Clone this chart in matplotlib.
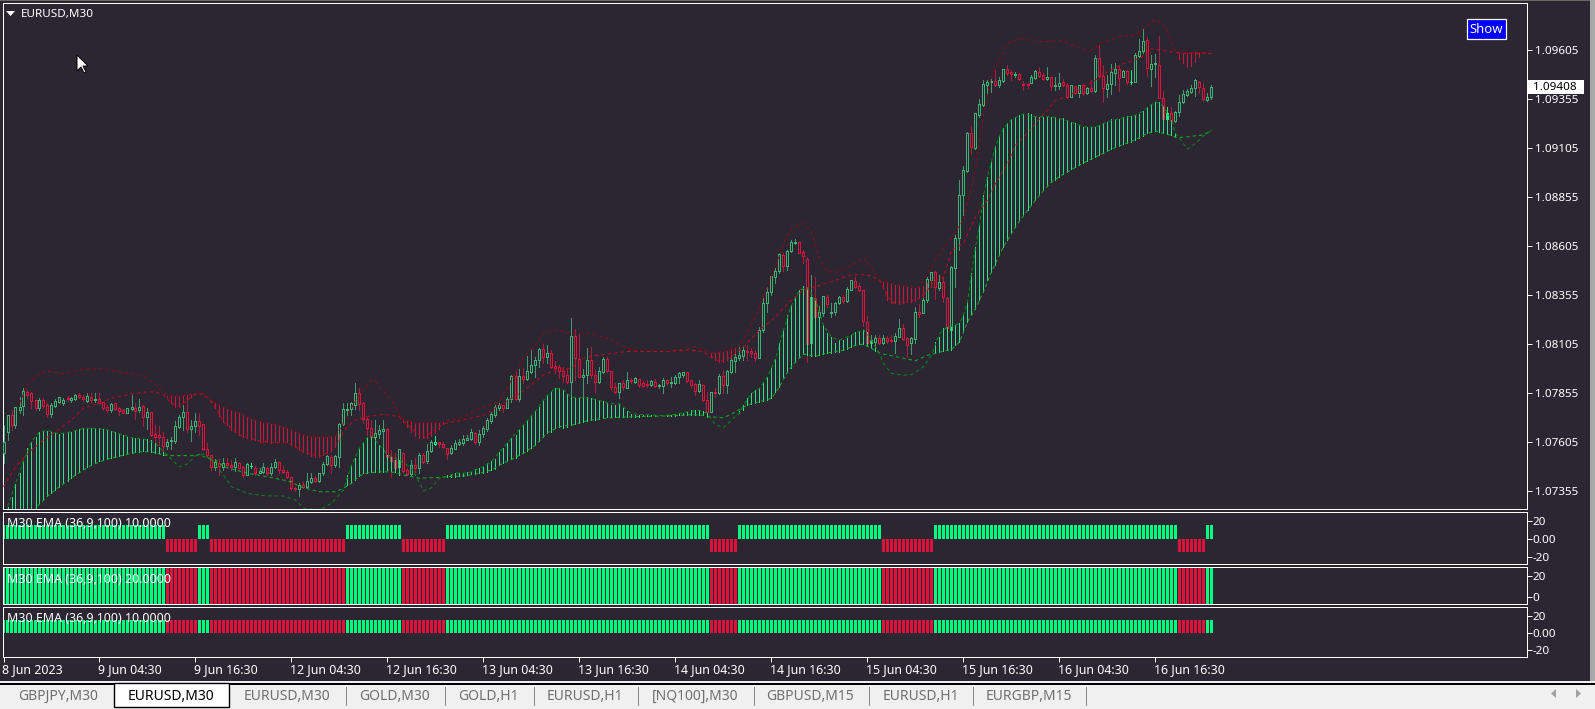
import numpy as np
import matplotlib
matplotlib.use("Agg")
import matplotlib.pyplot as plt
from matplotlib.patches import Rectangle, Polygon
from matplotlib.transforms import ScaledTranslation

# ---------- data (prices in points: 1.0 + value / 100000) ----------
candle_dir = ("ggrgggrrrg" "rrggggrggr" "rgrgrrrgrr" "rggrgrgrrr" "rgggggrggr" "rrrgrgrrgr" "rgbrggrggr" "rrrrgrggrg" "ggrggggggr" "rrrgggrrrg"
              "rrgrgrggbr" "rrggggggrg" "gggggrggrg" "rggggrgrrr" "rrgrrggrrg" "grrrgrgrgr" "rrgrggrggg" "grrrgrrgrg" "rgggggrrrg" "gggggrgggr"
              "rrgrggrggg" "rggrrrrggr" "grrggrrggr" "gggrgrrggg" "ggrgggggrg" "grrgrrrggr" "rgrggrrgrg" "rgrgrrgggr" "grbgggrggr" "rbrggggggr" "rgg")
body_top = [7606,7743,7743,7782,7785,7867,7861,7853,7819,7819,7819,7794,7794,7816,7833,7819,7827,7827,7844,7844,7836,7839,7833,7822,7822,7811,7782,7799,7802,7776,7768,7776,7782,7780,7785,7788,7759,7758,7646,7641,7629,7606,7615,7686,7731,7759,7756,7686,7712,7712,7695,7567,7539,7503,7496,7499,7496,7486,7501,7499,7476,7491,7482,7472,7455,7476,7470,7479,7503,7501,7462,7453,7425,7370,7387,7384,7408,7419,7419,7445,7491,7533,7530,7533,7695,7771,7771,7802,7853,7853,7802,7724,7678,7649,7666,7669,7671,7530,7513,7567,
 7547,7462,7487,7487,7539,7539,7561,7606,7603,7603,7595,7573,7574,7598,7603,7618,7623,7656,7649,7646,7674,7717,7748,7783,7793,7792,7824,7941,7940,7940,7941,7967,7996,8023,8079,8077,8057,8057,7992,7986,7965,7945,8145,8144,8030,7945,8023,8021,7945,7965,8028,8026,7965,7887,7904,7904,7921,7921,7929,7924,7904,7901,7914,7913,7897,7921,7921,7909,7938,7957,7960,7960,7919,7901,7899,7894,7819,7858,7858,7940,
 7940,7968,8022,8039,8048,8073,8071,8068,8056,8178,8311,8370,8450,8476,8563,8558,8581,8625,8622,8622,8571,8540,8345,8340,8268,8347,8342,8270,8313,8345,8343,8384,8430,8428,8398,8382,8219,8124,8133,8134,8133,8133,8124,8144,8184,8184,8133,8133,8268,8270,
 8331,8438,8472,8472,8421,8421,8340,8498,8643,8864,8991,9178,9178,9280,9326,9430,9438,9445,9443,9450,9506,9504,9491,9481,9479,9431,9428,9464,9494,9489,9474,9464,9464,9425,9433,9438,9426,9423,9418,9423,9423,9411,9411,9561,9561,9472,9428,9492,9504,9504,9494,9494,9442,9576,9600,9649,9652,9530,9535,9525,9360,9283,9283,9287,9336,9379,9394,9409,9450,9441,9411,9362,9413]
body_bottom = [7547,7658,7692,7692,7768,7790,7844,7816,7780,7776,7788,7748,7748,7790,7807,7805,7822,7821,7824,7833,7822,7816,7819,7819,7805,7780,7768,7768,7771,7765,7754,7754,7775,7765,7768,7731,7731,7641,7632,7629,7584,7584,7612,7612,7683,7734,7669,7671,7686,7688,7567,7539,7479,7479,7482,7479,7486,7479,7476,7474,7437,7438,7480,7448,7448,7452,7445,7445,7479,7462,7453,7425,7369,7365,7367,7377,7377,7402,7408,7408,7445,7491,7488,7489,7530,7695,7768,7771,7794,7799,7724,7678,7629,7629,7646,7663,7530,7508,7471,7476,
 7459,7442,7442,7471,7471,7505,7508,7561,7596,7596,7579,7545,7550,7571,7596,7598,7617,7622,7605,7607,7646,7671,7714,7743,7777,7780,7780,7824,7824,7822,7928,7928,7962,7996,8021,8040,8040,7989,7984,7965,7941,7909,7913,8031,7938,7938,7945,7945,7913,7913,7964,7969,7887,7858,7858,7884,7882,7916,7911,7897,7892,7895,7894,7890,7892,7890,7904,7904,7907,7935,7948,7918,7897,7867,7867,7821,7760,7760,7853,7853,
 7895,7895,7963,8019,8034,8044,8065,8056,8034,8034,8178,8311,8367,8447,8474,8503,8503,8578,8617,8569,8551,8104,8107,8240,8240,8260,8308,8263,8268,8311,8325,8325,8382,8396,8379,8223,8107,8107,8115,8110,8110,8121,8119,8119,8141,8131,8100,8107,8131,8257,
 8260,8328,8433,8393,8391,8342,8184,8178,8493,8643,8864,8988,9107,9103,9271,9322,9426,9438,9426,9426,9445,9487,9479,9477,9453,9426,9423,9436,9462,9472,9457,9453,9421,9421,9421,9426,9365,9365,9382,9382,9385,9385,9394,9394,9472,9411,9406,9428,9487,9462,9467,9442,9440,9442,9574,9598,9510,9506,9530,9360,9249,9253,9243,9239,9287,9336,9375,9390,9408,9413,9351,9348,9362]
highs = [7692,7743,7768,7782,7836,7879,7870,7861,7819,7827,7827,7802,7802,7822,7836,7827,7839,7836,7848,7853,7844,7853,7853,7853,7853,7811,7794,7805,7805,7785,7771,7780,7844,7802,7822,7794,7776,7759,7692,7686,7658,7618,7629,7714,7743,7794,7844,7717,7751,7751,7695,7601,7539,7516,7520,7522,7522,7513,7522,7505,7482,7496,7496,7482,7471,7496,7479,7496,7520,7505,7482,7462,7428,7377,7394,7403,7445,7445,7431,7445,7505,7539,7539,7539,7700,7802,7802,7811,7904,7879,7811,7734,7717,7717,7692,7717,7675,7564,7547,7567,
 7550,7471,7513,7521,7547,7547,7595,7615,7635,7603,7606,7573,7590,7615,7618,7641,7641,7669,7658,7666,7686,7725,7760,7794,7802,7792,7836,7947,7969,7975,7980,8043,8077,8037,8083,8105,8100,8074,8018,7998,7989,7980,8236,8179,8154,7975,8083,8091,7972,7989,8040,8037,7969,7907,7904,7921,7960,7933,7935,7924,7916,7921,7921,7924,7901,7929,7924,7935,7947,7960,7963,7963,7921,7904,7921,7895,7861,7858,7879,7952,
 7971,7971,8042,8053,8090,8090,8098,8082,8073,8192,8337,8393,8450,8490,8566,8566,8583,8634,8642,8625,8583,8546,8456,8444,8297,8348,8354,8311,8320,8348,8354,8393,8433,8444,8413,8382,8246,8150,8150,8150,8150,8144,8150,8158,8234,8206,8138,8141,8291,8308,
 8348,8447,8472,8478,8456,8447,8345,8501,8660,8940,9011,9187,9215,9280,9356,9450,9450,9453,9501,9467,9509,9525,9501,9492,9484,9447,9433,9476,9501,9518,9487,9515,9467,9467,9487,9453,9433,9425,9421,9425,9430,9416,9450,9577,9628,9526,9476,9532,9535,9521,9501,9501,9501,9586,9657,9708,9668,9577,9583,9674,9396,9314,9311,9290,9374,9399,9402,9425,9453,9445,9436,9382,9425]
lows = [7496,7615,7666,7675,7751,7743,7828,7776,7768,7768,7776,7734,7734,7785,7802,7794,7816,7811,7819,7828,7816,7811,7811,7811,7802,7768,7759,7759,7768,7743,7751,7751,7768,7720,7759,7686,7671,7635,7606,7589,7561,7567,7567,7598,7675,7666,7658,7612,7658,7640,7564,7530,7462,7462,7437,7462,7470,7462,7459,7465,7428,7437,7470,7437,7445,7445,7437,7437,7470,7445,7445,7419,7360,7357,7329,7369,7369,7394,7403,7403,7437,7488,7445,7479,7479,7692,7743,7743,7771,7768,7700,7641,7615,7598,7623,7573,7513,7428,7462,7437,
 7445,7437,7437,7454,7445,7496,7499,7555,7590,7578,7573,7518,7544,7567,7590,7590,7615,7615,7595,7590,7632,7663,7700,7734,7768,7759,7776,7811,7819,7816,7904,7921,7955,7938,7989,8006,8006,7980,7958,7929,7912,7904,7743,7921,7935,7828,7904,7929,7861,7904,7955,7964,7870,7853,7831,7870,7878,7904,7904,7887,7884,7884,7890,7887,7879,7856,7895,7884,7901,7904,7935,7913,7884,7845,7861,7814,7751,7756,7836,7850,
 7852,7855,7954,7963,8022,8022,8022,8039,8019,8031,8167,8269,8354,8413,8464,8478,8481,8571,8614,8566,8518,8014,8107,8235,8218,8248,8294,8240,8252,8308,8311,8320,8379,8388,8376,8195,8104,8104,8073,8104,8104,8107,8115,8056,8141,8127,8039,8053,8110,8243,
 8260,8320,8396,8336,8379,8320,8175,8175,8396,8583,8762,8982,9073,9100,9260,9317,9374,9391,9419,9416,9441,9476,9450,9467,9450,9399,9408,9433,9458,9467,9450,9450,9399,9399,9402,9419,9357,9362,9379,9365,9375,9379,9389,9390,9464,9340,9365,9379,9424,9396,9464,9430,9430,9440,9566,9586,9470,9419,9464,9357,9246,9249,9238,9236,9266,9331,9368,9382,9368,9385,9345,9345,9351]

hist_top = [7224,7275,7326,7391,7445,7508,7573,7606,7632,7658,7663,7663,7658,7649,7646,7649,7654,7658,7666,7671,7674,7676,7678,7674,7674,7673,7666,7661,7658,7646,7639,7632,7627,7625,7623,7620,7618,7615,7598,7581,7555,
 7841,7839,7839,7839,7844,7844,7848,7853, 7535,7535,7535,
 7816,7802,7794,7782,7771,7765,7756,7751,7743,7734,7724,7715,7705,7702,7700,7697,7695,7690,7683,7675,7666,7658,7649,7641,7635,7632,7629,7629,7629,7629,7632,7635,7646,7649,
 7437,7487,7522,7573,7606,7629,7635,7629,7590,7573,7539,7530,7513,7513,
 7720,7714,7707,7700,7700,7700,7700,7700,7700,7703,7707,
 7438,7443,7447,7447,7445,7452,7452,7469,7474,7479,7499,7506,7520,7554,7576,7598,7624,7641,7666,7691,7717,7739,7763,7785,7819,7844,7863,7879,7879,7870,7850,7833,7828,7828,7831,7836,7831,7822,7819,7814,7804,7795,7795,7799,7777,7761,7748,7741,7743,7744,7743,7744,7743,7739,7739,7741,7743,7746,7751,7754,7759,7766,7766,7766,7763,7751,
 8059,8059,8061,8065,8070,8073,8082,
 7762,7792,7827,7852,7869,7878,7912,7937,7980,8030,8107,8175,8252,8302,8345,8379,8399,8393,8345,8328,8243,8200,8158,8138,8110,8124,8127,8133,8150,8167,8172,8178,8167,8124,8098,8059,
 8422,8413,8410,8406,8403,8399,8393,8389,8389,8393,8399,8413,8430,
 8116,8141,8184,8192,8195,8201,8209,8251,8320,8464,8600,8711,8864,8957,9034,9113,9166,9204,9229,9249,9263,9272,9277,9280,9277,9267,9263,9260,9263,9263,9263,9258,9255,9243,9238,9229,9221,9212,9209,9209,9209,9221,9229,9238,9249,9253,9253,9260,9265,9266,9270,9277,9294,9311,9328,9340,9336,9317,9297,9246,9178,
 9586,9586,9589,9589,9593,9593,9591, 9590,9590]
hist_bottom = [6833,6918,6969,7020,7071,7122,7173,7224,7266,7289,7309,7329,7343,7360,7377,7394,7408,7419,7436,7453,7465,7476,7488,7499,7508,7513,7518,7521,7530,7535,7538,7547,7550,7554,7555,7557,7557,7555,7550,7547,7538,
 7836,7802,7785,7785,7802,7819,7833,7850, 7535,7535,7535,
 7811,7777,7737,7708,7691,7666,7658,7641,7629,7623,7620,7615,7606,7603,7603,7601,7603,7606,7606,7603,7589,7578,7567,7555,7544,7533,7530,7530,7538,7550,7561,7578,7615,7649,
 7385,7394,7411,7433,7445,7448,7450,7450,7450,7453,7462,7457,7450,7437,
 7708,7680,7658,7635,7627,7624,7627,7635,7652,7671,7697,
 7428,7428,7428,7431,7431,7437,7442,7442,7445,7448,7454,7462,7465,7487,7499,7508,7516,7522,7539,7547,7561,7573,7590,7612,7629,7652,7658,7675,7683,7678,7683,7691,7697,7700,7709,7714,7717,7717,7722,7725,7734,7734,7734,7731,7731,7731,7734,7734,7734,7736,7736,7737,7736,7736,7736,7736,7737,7739,7744,7744,7744,7744,7744,7743,7741,7734,
 8039,8022,8014,8014,8022,8039,8059,
 7752,7770,7795,7800,7805,7810,7815,7820,7827,7861,7886,7937,7962,7980,8013,8039,8053,8048,8042,8042,8048,8053,8059,8059,8061,8065,8073,8078,8087,8098,8104,8104,8093,8082,8070,8059,
 8388,8328,8314,8311,8308,8311,8320,8320,8325,8337,8345,8379,8396,
 8056,8065,8068,8073,8076,8098,8115,8166,8217,8252,8285,8328,8371,8430,8472,8507,8558,8600,8634,8677,8702,8736,8762,8787,8813,8838,8863,8889,8914,8931,8943,8957,8971,8983,8996,9005,9017,9028,9039,9049,9059,9067,9079,9090,9098,9107,9113,9122,9127,9136,9147,9154,9166,9178,9185,9192,9186,9178,9175,9168,9158,
 9560,9535,9518,9521,9543,9569,9586, 9590,9590]
# alternating run lengths of the trend state, starting with the green state
trend_runs = [41,8,3,34,14,11,66,7,36,13,61,7,2]

red_outer_idx = [4,6,8,10,12,15,19,24,28,32,36,38,40,41,44,47,50,52,55,59,63,67,71,75,79,83,85,89,92,93,97,99,100,103,110,115,120,124,127,130,133,135,138,142,146,151,156,159,166,173,176,177,180,184,186,189,192,195,197,200,202,204,206,209,212,215,217,219,224,229,233,237,240,243,245,247,249,251,254,259,265,268,272,275,279,283,288,290,291,293,296,299,302]
red_outer = [7802,7896,7938,7964,7964,7952,7972,7980,7964,7955,7930,7896,7853,7841,7839,7848,7853,7816,7782,7751,7715,7697,7675,7641,7629,7635,7700,7853,7921,7912,7819,7743,7720,7700,7707,7731,7785,7810,7921,8032,8100,8159,8176,8159,8159,8134,8083,8066,8066,8091,8066,8059,8065,8098,8158,8294,8447,8617,8693,8719,8677,8540,8472,8472,8506,8544,8498,8430,8403,8396,8532,8651,8736,8991,9280,9467,9552,9637,9662,9645,9651,9620,9600,9645,9671,9680,9760,9730,9700,9595,9590,9590,9586]
red_inner_idx = [0,3,7,10,13,17,20,24,27,32,36,38,40,42,44,46,48,50,52,55,59,63,67,71,75,79,82,84,85,86,88,91,95,99,100,105,110,115,120,125,129,132,135,138,142,145,149,156,166,171,175,176,177,179,182,185,189,193,196,200,203,207,211,214,217,219,222,226,229,231,233,235,237,240,243,246,248,251,253,256,258,261,263,266,269,273,276,280,284,287,292,295,302]
red_inner = [7377,7479,7564,7615,7657,7717,7777,7802,7828,7850,7861,7860,7845,7802,7785,7819,7850,7848,7811,7708,7641,7615,7601,7603,7555,7530,7561,7615,7657,7683,7717,7734,7746,7734,7709,7624,7697,7717,7742,7802,7853,7896,7947,7972,7981,8032,8049,8066,8066,8074,8066,8049,8039,8014,8039,8090,8175,8243,8311,8379,8396,8422,8450,8461,8450,8430,8314,8320,8336,8379,8430,8447,8583,8617,8753,8838,8923,9025,9118,9178,9229,9297,9348,9368,9399,9450,9492,9535,9560,9610,9594,9586,9586]
green_inner_idx = [0,4,8,11,14,18,22,26,30,34,37,40,41,44,48,49,51,53,55,58,61,65,68,72,74,79,83,85,87,89,91,95,98,100,104,108,111,115,119,122,124,127,130,133,136,139,142,146,150,154,158,163,168,172,175,176,177,180,183,186,188,192,194,196,198,200,203,206,210,213,215,217,219,220,224,228,231,233,235,237,239,240,241,243,245,247,250,253,256,259,262,265,268,271,274,277,280,283,286,288,290,292,293,295,298,300,302]
green_inner = [6884,7071,7266,7329,7377,7436,7487,7518,7538,7555,7555,7538,7535,7535,7535,7542,7521,7513,7479,7462,7445,7431,7419,7402,7377,7351,7351,7369,7394,7433,7448,7453,7450,7436,7420,7423,7428,7431,7445,7462,7487,7516,7547,7589,7652,7683,7691,7714,7725,7731,7734,7736,7739,7744,7741,7734,7733,7728,7758,7794,7805,7827,7886,7962,8013,8053,8042,8059,8073,8098,8104,8082,8059,8053,8036,8019,8047,8056,8068,8076,8115,8166,8217,8285,8371,8472,8600,8702,8787,8863,8931,8971,9005,9039,9067,9098,9122,9147,9178,9192,9178,9168,9158,9158,9166,9170,9195]
green_outer_idx = [1,3,5,7,9,11,14,17,20,23,26,29,32,35,38,40,41,43,44,46,48,50,52,55,57,61,65,70,73,75,79,82,85,87,89,91,92,94,96,99,102,104,105,107,109,111,113,115,117,120,122,124,127,130,133,136,138,140,142,145,148,151,154,157,160,165,168,171,174,176,178,180,182,184,185,187,189,191,193,195,197,199,201,203,205,207,209,212,215,217,219,220,222,225,227,230,232,234,236,237,239,240,241,242,243,244,245,246,247,248,249,250,252,255,258,262,266,270,273,276,279,283,285,288,290,292,293,294,296,298,300,302]
green_outer = [7275,7391,7508,7606,7657,7663,7646,7657,7674,7674,7666,7646,7627,7620,7598,7555,7538,7496,7479,7493,7535,7544,7513,7437,7377,7343,7331,7329,7309,7267,7258,7292,7360,7487,7573,7629,7635,7590,7539,7513,7473,7396,7356,7371,7422,7428,7447,7445,7452,7479,7506,7554,7624,7691,7763,7844,7879,7870,7833,7831,7822,7804,7799,7748,7744,7739,7746,7759,7766,7751,7692,7677,7717,7753,7792,7852,7878,7937,8030,8175,8302,8379,8393,8328,8200,8138,8124,8150,8178,8124,8056,8005,7954,7945,7949,7988,8047,8158,8192,8195,8209,8251,8319,8464,8600,8711,8863,8957,9034,9113,9166,9204,9249,9277,9263,9263,9243,9212,9209,9238,9253,9270,9294,9340,9317,9246,9178,9153,9098,9127,9164,9195]

xtick_idx = [0,24,48,72,96,120,144,168,192,216,240,264,288]
xtick_labels = ["8 Jun 2023","9 Jun 04:30","9 Jun 16:30","12 Jun 04:30","12 Jun 16:30","13 Jun 04:30","13 Jun 16:30",
                "14 Jun 04:30","14 Jun 16:30","15 Jun 04:30","15 Jun 16:30","16 Jun 04:30","16 Jun 16:30"]
price_ticks = [1.07355,1.07605,1.07855,1.08105,1.08355,1.08605,1.08855,1.09105,1.09355,1.09605]
last_price = "1.09408"
osc_levels_up = 15
osc_levels_dn = -15
osc_labels = ["M30 EMA (36,9,100) 10.0000","M30 EMA (36,9,100) 20.0000","M30 EMA (36,9,100) 10.0000"]
tabs = ["GBPJPY,M30","EURUSD,M30","EURUSD,M30","GOLD,M30","GOLD,H1","EURUSD,H1","[NQ100],M30","GBPUSD,M15","EURUSD,H1","EURGBP,M15"]

# ---------- style ----------
W, H = 1595, 709
BG = "#2b2631"
FONT = "Noto Sans"
FS = 8.4
FS_WIDE = 8.9
plt.rcParams["font.family"] = [FONT, "DejaVu Sans"]
C_GREEN = "#00ff7f"; C_RED = "#dc143c"
C_BODY_G = "#3cb371"; C_WICK_G = "#3f9c70"; C_WICK_R = "#b01c40"
C_HIST_G = "#2fe08a"; C_HIST_R = "#c4183c"

def P(v):
    return 1.0 + np.asarray(v, dtype=float) / 1e5

fig = plt.figure(figsize=(W / 100, H / 100), dpi=100, facecolor=BG)
LW = 0.72

def panel(top, bottom, left=2.5, right=1526.7, ypad=2.2):
    ax = fig.add_axes([left / W, 1 - bottom / H, (right - left) / W, (bottom - top) / H])
    ax.set_facecolor(BG)
    for s in ax.spines.values():
        s.set_color("white"); s.set_linewidth(LW)
    ax.set_xlim(-0.25, 380.8)
    ax.yaxis.tick_right()
    ax.tick_params(axis="y", colors="white", length=3.5, width=LW, pad=ypad, labelsize=FS)
    ax.tick_params(axis="x", bottom=False, labelbottom=False)
    return ax

idx = np.arange(303)
state_green = np.repeat([i % 2 == 0 for i in range(len(trend_runs))], trend_runs)

# ---------- main chart ----------
ax = panel(3, 509)
ax.set_ylim(1.07263, 1.09843)
ax.set_yticks(price_ticks, [f"{p:.5f}" for p in price_ticks])

wick_cols = [C_GREEN if d == "b" else (C_WICK_G if d == "g" else C_WICK_R) for d in candle_dir]
ax.vlines(idx, P(lows), P(highs), colors=wick_cols, linewidth=LW, antialiased=False, zorder=2)
edge_cols = [C_GREEN if d == "b" else (C_BODY_G if d == "g" else C_RED) for d in candle_dir]
top_p, bot_p = P(body_top), P(body_bottom)
ax.bar(idx, bot_p - top_p, bottom=top_p, width=0.5, facecolor=BG, edgecolor=edge_cols,
       linewidth=LW, antialiased=False, zorder=3)
hist_cols = [C_HIST_G if s else C_HIST_R for s in state_green]
ax.vlines(idx, P(hist_bottom), P(hist_top), colors=hist_cols, linewidth=LW, antialiased=False, zorder=4)

dash = (0, (3.5, 3))
ax.plot(red_outer_idx, P(red_outer), color="#8f0a14", lw=LW, ls=dash, zorder=5)
ax.plot(red_inner_idx, P(red_inner), color="#c00a1e", lw=LW, ls=dash, zorder=5)
ax.plot(green_inner_idx, P(green_inner), color="#0bb41e", lw=LW, ls=dash, zorder=5)
ax.plot(green_outer_idx, P(green_outer), color="#078c14", lw=LW, ls=dash, zorder=5)

# ---------- oscillator panels ----------
bar_cols = [C_GREEN if s else C_RED for s in state_green]

ax2 = panel(511.5, 564, ypad=0.5)
ax2.set_ylim(-28, 30)
ax2.bar(idx, np.where(state_green, osc_levels_up, osc_levels_dn), width=0.76, color=bar_cols, antialiased=False)
ax2.set_yticks([20, 0, -20], ["20", "0.00", "-20"])

ax3 = panel(566.5, 604, ypad=0.5)
ax3.set_ylim(-7, 29)
ax3.bar(idx, np.full(303, 36), bottom=-7, width=0.8, color=bar_cols, antialiased=False)
ax3.set_yticks([20, 0], ["20", "0"])

ax4 = panel(606.5, 657, ypad=0.5)
ax4.set_ylim(-28.5, 31)
ax4.bar(idx, np.full(303, osc_levels_up), width=0.78, color=bar_cols, antialiased=False)
ax4.set_yticks([20, 0, -20], ["20", "0.00", "-20"])
ax4.set_xticks(xtick_idx, xtick_labels, ha="left")
ax4.tick_params(axis="x", bottom=True, labelbottom=True, colors="white", length=3.5, width=LW, pad=1.2, labelsize=FS_WIDE)
shift = ScaledTranslation(-1.5 / 100, 0, fig.dpi_scale_trans)
for t in ax4.get_xticklabels():
    t.set_transform(t.get_transform() + shift)

# ---------- overlay chrome, in pixel units ----------
ov = fig.add_axes([0, 0, 1, 1], zorder=10)
ov.set_xlim(0, W); ov.set_ylim(H, 0); ov.axis("off"); ov.patch.set_alpha(0)

for y, lab in zip((523.5, 579.5, 618.5), osc_labels):
    ov.text(7.3, y, lab, color="white", fontsize=FS_WIDE, va="center", ha="left")

ov.add_patch(Polygon([(6, 11), (15, 11), (10.5, 16)], fc="white", ec="none"))
ov.text(21, 14.5, "EURUSD,M30", color="white", fontsize=FS, va="center", ha="left")

ov.add_patch(Rectangle((1466.7, 19.3), 39, 19.4, fc="#0000ff", ec="white", lw=0.9))
ov.text(1486.2, 29.2, "Show", color="white", fontsize=FS + 1, va="center", ha="center")

ov.add_patch(Rectangle((1528, 80), 56, 14, fc="white", ec="none"))
ov.text(1533, 87.8, last_price, color="black", fontsize=FS, va="center", ha="left")

ov.add_patch(Polygon([(77, 55), (77, 71), (81, 67), (84, 73), (86, 72), (83, 66), (88, 66)], fc="white", ec="black", lw=0.7))

# window frame and tab bar
ov.add_patch(Rectangle((0, 0), W, 1.2, fc="#6a6a6a", ec="none"))
ov.add_patch(Rectangle((1590, 0), 5, 683, fc="#a8a8a8", ec="none"))
ov.add_patch(Rectangle((0, 681), W, 2.5, fc="#f0f0f0", ec="none"))
ov.add_patch(Rectangle((0, 683), W, 1.6, fc="black", ec="none"))
ov.add_patch(Rectangle((0, 684.6), W, H - 684.6, fc="#f0f0f0", ec="none"))
ov.add_patch(Rectangle((113.5, 683), 115.5, 24, fc="white", ec="black", lw=1.0))
tab_centres = [58, 171, 287, 394, 488, 585, 695, 810, 921, 1029]
for i, (cx, t) in enumerate(zip(tab_centres, tabs)):
    ov.text(cx, 696, t, color="black" if i == 1 else "#6f6f6f", fontsize=10, va="center", ha="center")
for sx in [345.5, 445, 534, 638, 754, 869, 973, 1086]:
    ov.plot([sx, sx], [687, 705], color="#8a8a8a", lw=LW)
ov.add_patch(Polygon([(1556, 689), (1556, 698), (1551, 693.5)], fc="#a0a0a0", ec="none"))
ov.add_patch(Polygon([(1576, 689), (1576, 698), (1581, 693.5)], fc="#a0a0a0", ec="none"))

fig.savefig("out.png", dpi=100, facecolor=BG)
